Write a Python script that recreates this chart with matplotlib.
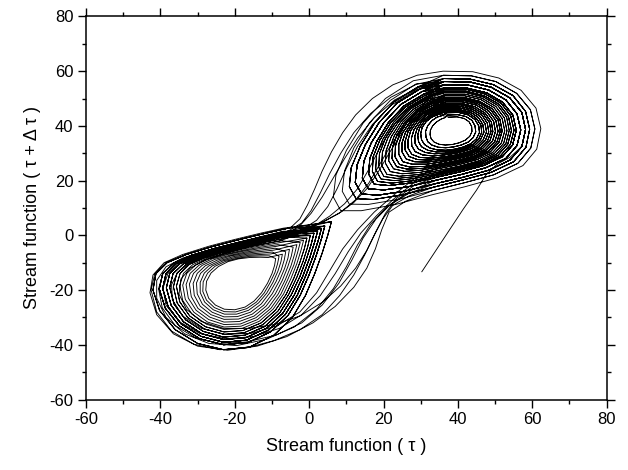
import matplotlib
matplotlib.use("Agg")
import matplotlib.pyplot as plt
from matplotlib.ticker import MultipleLocator

plt.rcParams["font.family"] = ["Liberation Sans", "DejaVu Sans"]
plt.rcParams["axes.unicode_minus"] = False

# right lobe loops, traced clockwise from the top (hole first, widest last)
Rh1 = [(37.5, 43.2), (39.8, 43.3), (41.7, 42.7), (43, 41.5), (43.7, 39.8), (43.8, 38), (43.2, 36.2), (42, 34.8), (40.3, 33.8), (38.5, 33.2),
       (36.6, 33), (34.9, 33.3), (33.6, 34.1), (32.8, 35.3), (32.5, 36.8), (32.6, 38.4), (33.2, 40), (34.2, 41.4), (35.5, 42.5), (36.5, 43)]
Rh2 = [(37.3, 44), (40, 44.1), (42.2, 43.4), (43.8, 42), (44.6, 40), (44.8, 37.8), (44.1, 35.7), (42.8, 34.1), (40.9, 33), (38.8, 32.3),
       (36.7, 32), (34.7, 32.2), (33, 33), (31.9, 34.2), (31.4, 36), (31.3, 38), (31.9, 40.1), (33, 41.9), (34.4, 43.2), (35.8, 43.8)]
RI = [(37, 44.8), (40.2, 44.9), (42.8, 44), (44.6, 42.3), (45.6, 40), (45.8, 37.6), (45, 35.3), (43.5, 33.5), (41.5, 32.3), (39.2, 31.5),
      (36.8, 31.1), (34.5, 31.2), (32.5, 31.9), (31, 33.2), (30.2, 35), (30, 37.2), (30.4, 39.5), (31.5, 41.6), (33, 43.2), (35, 44.3)]
R03 = [(37.0, 45.4), (40.4, 45.4), (43.1, 44.5), (45.0, 42.7), (46.2, 40.3), (46.4, 37.6), (45.6, 35.2), (44.0, 33.2), (41.8, 31.9), (39.3, 31.0),
       (36.7, 30.6), (34.1, 30.5), (31.9, 31.1), (30.2, 32.4), (29.4, 34.3), (29.2, 36.7), (29.7, 39.2), (30.9, 41.6), (32.6, 43.5), (34.8, 44.8)]
R07 = [(36.9, 45.9), (40.5, 45.9), (43.4, 45.0), (45.5, 43.1), (46.7, 40.5), (47.0, 37.7), (46.1, 35.0), (44.5, 32.9), (42.1, 31.5), (39.4, 30.5),
       (36.5, 30.0), (33.7, 29.8), (31.2, 30.3), (29.4, 31.5), (28.5, 33.5), (28.4, 36.1), (29.0, 38.9), (30.3, 41.6), (32.1, 43.7), (34.5, 45.2)]
R11 = [(36.9, 46.5), (40.7, 46.5), (43.7, 45.5), (46.0, 43.5), (47.3, 40.8), (47.7, 37.8), (46.8, 34.9), (45.1, 32.6), (42.5, 31.1), (39.5, 30.0),
       (36.4, 29.4), (33.3, 29.0), (30.5, 29.4), (28.5, 30.6), (27.6, 32.7), (27.5, 35.5), (28.2, 38.6), (29.7, 41.6), (31.6, 44.0), (34.3, 45.7)]
R15 = [(36.9, 47.1), (40.8, 47.1), (44.0, 46.0), (46.5, 43.9), (47.9, 41.0), (48.3, 37.8), (47.4, 34.7), (45.6, 32.3), (42.9, 30.6), (39.6, 29.4),
       (36.2, 28.7), (32.8, 28.2), (29.7, 28.5), (27.6, 29.6), (26.6, 31.9), (26.6, 34.9), (27.3, 38.2), (29.0, 41.5), (31.1, 44.2), (34.0, 46.1)]
R18 = [(36.9, 47.6), (40.9, 47.7), (44.3, 46.5), (46.9, 44.3), (48.5, 41.2), (48.9, 37.9), (48.0, 34.6), (46.1, 32.0), (43.2, 30.2), (39.7, 29.0),
       (36.1, 28.1), (32.4, 27.5), (29.1, 27.7), (26.9, 28.8), (25.8, 31.2), (25.8, 34.4), (26.6, 37.9), (28.4, 41.5), (30.7, 44.5), (33.8, 46.6)]
R22 = [(36.8, 48.1), (41.0, 48.2), (44.6, 47.0), (47.3, 44.7), (49.0, 41.4), (49.4, 37.9), (48.6, 34.5), (46.6, 31.7), (43.5, 29.8), (39.8, 28.5),
       (36.0, 27.5), (32.0, 26.8), (28.4, 26.9), (26.1, 27.9), (25.0, 30.4), (25.0, 33.9), (25.9, 37.6), (27.8, 41.5), (30.3, 44.7), (33.5, 47.0)]
R26 = [(36.8, 48.8), (41.2, 48.8), (45.0, 47.6), (47.8, 45.1), (49.6, 41.7), (50.1, 38.0), (49.3, 34.4), (47.2, 31.4), (43.9, 29.4), (39.9, 28.0),
       (35.9, 26.9), (31.6, 26.0), (27.7, 26.0), (25.2, 26.9), (24.1, 29.6), (24.1, 33.3), (25.1, 37.3), (27.1, 41.5), (29.8, 45.0), (33.2, 47.5)]
R30 = [(36.7, 49.4), (41.3, 49.4), (45.3, 48.1), (48.3, 45.5), (50.2, 42.0), (50.8, 38.0), (49.9, 34.2), (47.7, 31.1), (44.2, 28.9), (40.0, 27.4),
       (35.7, 26.2), (31.1, 25.2), (27.0, 25.0), (24.3, 25.9), (23.1, 28.7), (23.2, 32.6), (24.3, 37.0), (26.4, 41.4), (29.3, 45.2), (32.9, 48.0)]
R33 = [(36.7, 49.9), (41.5, 49.9), (45.6, 48.6), (48.8, 45.9), (50.8, 42.2), (51.4, 38.1), (50.5, 34.1), (48.2, 30.8), (44.5, 28.5), (40.1, 26.9),
       (35.6, 25.7), (30.7, 24.5), (26.4, 24.2), (23.5, 25.1), (22.3, 28.0), (22.4, 32.1), (23.6, 36.7), (25.8, 41.4), (28.9, 45.5), (32.7, 48.4)]
R37 = [(36.6, 50.4), (41.6, 50.4), (45.8, 49.0), (49.2, 46.3), (51.3, 42.4), (51.9, 38.1), (51.0, 33.9), (48.7, 30.5), (44.8, 28.1), (40.2, 26.4),
       (35.4, 25.1), (30.2, 23.8), (25.7, 23.4), (22.7, 24.3), (21.4, 27.2), (21.6, 31.6), (22.9, 36.4), (25.2, 41.4), (28.4, 45.7), (32.4, 48.8)]
R41 = [(36.6, 51.0), (41.8, 51.0), (46.2, 49.6), (49.7, 46.7), (51.9, 42.7), (52.6, 38.2), (51.7, 33.8), (49.3, 30.2), (45.2, 27.7), (40.4, 25.9),
       (35.3, 24.5), (29.8, 23.0), (25.0, 22.5), (21.8, 23.3), (20.5, 26.4), (20.7, 31.0), (22.1, 36.1), (24.6, 41.4), (27.9, 46.0), (32.2, 49.3)]
R45 = [(36.6, 51.6), (41.9, 51.6), (46.5, 50.1), (50.2, 47.1), (52.5, 42.9), (53.2, 38.2), (52.3, 33.6), (49.8, 29.9), (45.6, 27.2), (40.5, 25.3),
       (35.1, 23.8), (29.3, 22.2), (24.2, 21.6), (20.9, 22.3), (19.5, 25.6), (19.7, 30.4), (21.2, 35.7), (23.9, 41.3), (27.4, 46.3), (31.9, 49.8)]
R48 = [(36.6, 52.2), (42.1, 52.2), (46.8, 50.6), (50.7, 47.5), (53.1, 43.2), (53.8, 38.3), (52.9, 33.5), (50.3, 29.6), (45.9, 26.8), (40.6, 24.9),
       (35.0, 23.2), (28.9, 21.5), (23.6, 20.8), (20.1, 21.5), (18.7, 24.9), (18.9, 29.9), (20.5, 35.4), (23.3, 41.3), (27.0, 46.5), (31.7, 50.2)]
R52 = [(36.5, 52.7), (42.2, 52.7), (47.1, 51.0), (51.1, 47.9), (53.6, 43.4), (54.4, 38.3), (53.4, 33.3), (50.8, 29.3), (46.2, 26.4), (40.7, 24.4),
       (34.8, 22.6), (28.5, 20.8), (22.9, 20.0), (19.3, 20.6), (17.9, 24.1), (18.1, 29.3), (19.8, 35.1), (22.7, 41.3), (26.5, 46.7), (31.4, 50.6)]
R56 = [(36.5, 53.3), (42.4, 53.3), (47.4, 51.6), (51.6, 48.3), (54.2, 43.7), (55.1, 38.4), (54.1, 33.2), (51.4, 29.0), (46.6, 26.0), (40.8, 23.9),
       (34.7, 22.0), (28.1, 20.0), (22.2, 19.1), (18.4, 19.7), (17.0, 23.3), (17.2, 28.7), (19.0, 34.8), (22.0, 41.3), (26.0, 47.0), (31.1, 51.1)]
R60 = [(36.4, 53.9), (42.5, 53.8), (47.7, 52.1), (52.0, 48.7), (54.8, 43.9), (55.7, 38.4), (54.7, 33.0), (51.9, 28.7), (46.9, 25.5), (40.9, 23.3),
       (34.5, 21.3), (27.6, 19.2), (21.4, 18.2), (17.5, 18.7), (16.0, 22.4), (16.3, 28.1), (18.2, 34.4), (21.3, 41.2), (25.5, 47.3), (30.8, 51.6)]
R67 = [(36.3, 55.0), (42.8, 54.9), (48.3, 53.1), (52.9, 49.5), (55.9, 44.4), (56.9, 38.5), (55.9, 32.8), (52.9, 28.1), (47.5, 24.7), (41.1, 22.3),
       (34.3, 20.2), (26.8, 17.8), (20.1, 16.6), (15.9, 17.0), (14.3, 20.9), (14.7, 27.0), (16.7, 33.8), (20.1, 41.2), (24.6, 47.8), (30.3, 52.5)]
R75 = [(36.3, 56.2), (43.1, 56.1), (49.0, 54.1), (53.9, 50.3), (57.2, 44.9), (58.2, 38.7), (57.2, 32.5), (54.0, 27.5), (48.3, 23.8), (41.3, 21.2),
       (34.0, 18.9), (25.9, 16.2), (18.6, 14.7), (14.1, 15.1), (12.4, 19.3), (12.9, 25.8), (15.1, 33.1), (18.8, 41.2), (23.6, 48.3), (29.8, 53.5)]
R82 = [(36.2, 57.3), (43.3, 57.1), (49.5, 55.1), (54.8, 51.1), (58.2, 45.3), (59.3, 38.8), (58.3, 32.2), (55.0, 26.9), (48.9, 23.0), (41.5, 20.3),
       (33.7, 17.7), (25.1, 14.8), (17.3, 13.1), (12.6, 13.4), (10.8, 17.8), (11.3, 24.7), (13.7, 32.5), (17.6, 41.1), (22.8, 48.8), (29.3, 54.3)]
R90 = [(36.1, 58.5), (43.6, 58.3), (50.2, 56.2), (55.8, 51.9), (59.5, 45.9), (60.7, 38.9), (59.6, 31.9), (56.1, 26.3), (49.6, 22.1), (41.7, 19.2),
       (33.4, 16.4), (24.2, 13.2), (15.9, 11.3), (10.8, 11.4), (8.9, 16.1), (9.5, 23.5), (12.0, 31.9), (16.2, 41.1), (21.8, 49.3), (28.7, 55.3)]
RO = [(36, 60), (44, 59.8), (51, 57.5), (57, 53), (61, 46.5), (62.3, 39), (61.2, 31.5), (57.5, 25.5), (50.5, 21), (42, 17.8),
      (33, 14.8), (23, 11.2), (14, 9), (8.5, 9), (6.5, 14), (7.2, 22), (10, 31), (14.5, 41), (20.5, 50), (28, 56.5)]

# left lobe loops, traced clockwise from the upper-right corner
LI = [(-9, -8.5), (-9.3, -11), (-10, -14), (-11.2, -17.5), (-12.8, -21), (-14.8, -24), (-17.2, -26.2), (-20, -27.2), (-22.8, -27), (-25.2, -25.5),
      (-27, -23), (-27.8, -20), (-27.6, -16.8), (-26.4, -13.8), (-24.4, -11.4), (-21.8, -9.6), (-19, -8.6), (-16, -8.1), (-13.2, -8), (-11, -8.1)]
L06 = [(-8.1, -7.7), (-8.5, -10.4), (-9.2, -13.6), (-10.5, -17.3), (-12.1, -21.1), (-14.2, -24.4), (-16.8, -26.8), (-19.8, -28.0), (-22.8, -27.9), (-25.5, -26.4),
       (-27.6, -23.7), (-28.6, -20.5), (-28.5, -17.0), (-27.3, -13.8), (-25.3, -11.3), (-22.5, -9.5), (-19.5, -8.4), (-16.2, -7.7), (-13.2, -7.5), (-10.7, -7.5)]
L12 = [(-7.2, -6.9), (-7.6, -9.7), (-8.4, -13.1), (-9.7, -17.1), (-11.4, -21.1), (-13.6, -24.7), (-16.3, -27.4), (-19.5, -28.8), (-22.8, -28.8), (-25.8, -27.2),
       (-28.1, -24.4), (-29.3, -20.9), (-29.3, -17.2), (-28.2, -13.8), (-26.1, -11.2), (-23.1, -9.3), (-19.9, -8.1), (-16.4, -7.3), (-13.1, -7.0), (-10.3, -6.8)]
L18 = [(-6.3, -6.0), (-6.7, -9.0), (-7.5, -12.6), (-8.9, -16.9), (-10.7, -21.2), (-12.9, -25.1), (-15.8, -28.1), (-19.3, -29.7), (-22.9, -29.8), (-26.1, -28.1),
       (-28.7, -25.2), (-30.1, -21.4), (-30.3, -17.4), (-29.2, -13.9), (-27.0, -11.2), (-23.9, -9.2), (-20.4, -7.8), (-16.7, -6.9), (-13.1, -6.5), (-9.9, -6.1)]
L25 = [(-5.3, -5.1), (-5.7, -8.3), (-6.6, -12.1), (-8.0, -16.6), (-9.9, -21.3), (-12.2, -25.5), (-15.3, -28.8), (-19.0, -30.6), (-22.9, -30.7), (-26.4, -29.0),
       (-29.3, -25.9), (-30.9, -21.9), (-31.2, -17.6), (-30.1, -13.9), (-27.9, -11.1), (-24.6, -9.0), (-20.9, -7.5), (-16.9, -6.5), (-13.0, -5.9), (-9.5, -5.4)]
L31 = [(-4.3, -4.3), (-4.8, -7.6), (-5.8, -11.7), (-7.2, -16.4), (-9.1, -21.4), (-11.6, -25.9), (-14.8, -29.5), (-18.8, -31.5), (-22.9, -31.7), (-26.7, -29.9),
       (-29.9, -26.7), (-31.7, -22.4), (-32.2, -17.8), (-31.1, -13.9), (-28.8, -11.0), (-25.4, -8.8), (-21.4, -7.3), (-17.1, -6.1), (-13.0, -5.4), (-9.1, -4.7)]
L38 = [(-3.3, -3.4), (-3.9, -6.8), (-4.9, -11.2), (-6.4, -16.2), (-8.3, -21.4), (-10.9, -26.3), (-14.3, -30.1), (-18.5, -32.4), (-22.9, -32.6), (-27.0, -30.8),
       (-30.4, -27.4), (-32.5, -22.9), (-33.1, -18.0), (-32.0, -13.9), (-29.6, -10.9), (-26.1, -8.6), (-21.9, -7.0), (-17.3, -5.7), (-12.9, -4.8), (-8.7, -4.0)]
L44 = [(-2.4, -2.6), (-3.1, -6.2), (-4.1, -10.8), (-5.7, -16.0), (-7.6, -21.5), (-10.3, -26.7), (-13.9, -30.8), (-18.3, -33.2), (-22.9, -33.5), (-27.3, -31.7),
       (-31.0, -28.1), (-33.3, -23.4), (-34.0, -18.2), (-32.9, -13.9), (-30.5, -10.8), (-26.8, -8.5), (-22.4, -6.8), (-17.6, -5.4), (-12.9, -4.3), (-8.4, -3.4)]
L50 = [(-1.5, -1.8), (-2.2, -5.5), (-3.3, -10.3), (-4.9, -15.8), (-6.9, -21.5), (-9.7, -27.0), (-13.4, -31.4), (-18.0, -34.0), (-22.9, -34.4), (-27.6, -32.5),
       (-31.5, -28.8), (-34.0, -23.8), (-34.8, -18.4), (-33.8, -13.9), (-31.3, -10.7), (-27.4, -8.3), (-22.8, -6.5), (-17.8, -5.0), (-12.9, -3.8), (-8.0, -2.7)]
L56 = [(-0.6, -1.0), (-1.3, -4.9), (-2.5, -9.9), (-4.1, -15.6), (-6.2, -21.6), (-9.1, -27.4), (-12.9, -32.0), (-17.8, -34.8), (-22.9, -35.3), (-27.9, -33.4),
       (-32.1, -29.5), (-34.8, -24.3), (-35.7, -18.6), (-34.7, -13.9), (-32.2, -10.6), (-28.1, -8.2), (-23.3, -6.2), (-18.0, -4.6), (-12.9, -3.3), (-7.7, -2.0)]
L62 = [(0.3, -0.1), (-0.4, -4.2), (-1.6, -9.4), (-3.3, -15.3), (-5.5, -21.6), (-8.4, -27.7), (-12.4, -32.6), (-17.5, -35.6), (-22.9, -36.2), (-28.2, -34.2),
       (-32.6, -30.1), (-35.5, -24.7), (-36.5, -18.8), (-35.6, -13.9), (-33.0, -10.5), (-28.7, -8.0), (-23.7, -5.9), (-18.2, -4.2), (-12.8, -2.7), (-7.3, -1.3)]
L68 = [(1.3, 0.8), (0.5, -3.5), (-0.8, -8.9), (-2.5, -15.1), (-4.8, -21.7), (-7.8, -28.1), (-11.9, -33.3), (-17.3, -36.5), (-23.0, -37.2), (-28.5, -35.1),
       (-33.2, -30.9), (-36.3, -25.2), (-37.5, -19.0), (-36.6, -14.0), (-33.9, -10.5), (-29.5, -7.9), (-24.2, -5.7), (-18.4, -3.8), (-12.8, -2.2), (-6.9, -0.6)]
L75 = [(2.3, 1.6), (1.4, -2.8), (0.1, -8.4), (-1.7, -14.9), (-4.0, -21.8), (-7.1, -28.5), (-11.4, -33.9), (-17.0, -37.4), (-23.0, -38.1), (-28.8, -36.0),
       (-33.8, -31.6), (-37.1, -25.6), (-38.4, -19.2), (-37.5, -14.0), (-34.8, -10.4), (-30.2, -7.7), (-24.6, -5.4), (-18.6, -3.4), (-12.7, -1.6), (-6.5, 0.1)]
L81 = [(3.3, 2.5), (2.4, -2.1), (1.0, -7.9), (-0.9, -14.7), (-3.2, -21.9), (-6.4, -28.9), (-10.9, -34.6), (-16.8, -38.3), (-23.0, -39.1), (-29.1, -36.9),
       (-34.4, -32.4), (-37.9, -26.1), (-39.4, -19.4), (-38.5, -14.0), (-35.7, -10.3), (-31.0, -7.5), (-25.1, -5.1), (-18.9, -3.0), (-12.7, -1.1), (-6.1, 0.8)]
L88 = [(4.2, 3.4), (3.3, -1.3), (1.9, -7.4), (0.0, -14.4), (-2.4, -21.9), (-5.7, -29.3), (-10.4, -35.3), (-16.5, -39.2), (-23.0, -40.0), (-29.4, -37.8),
       (-34.9, -33.1), (-38.7, -26.6), (-40.3, -19.6), (-39.4, -14.0), (-36.5, -10.2), (-31.7, -7.3), (-25.6, -4.8), (-19.1, -2.6), (-12.6, -0.5), (-5.7, 1.5)]
LO = [(6, 5), (5, 0), (3.5, -6.5), (1.5, -14), (-1, -22), (-4.5, -30), (-9.5, -36.5), (-16, -40.8), (-23, -41.8), (-30, -39.5),
      (-36, -34.5), (-40.2, -27.5), (-42, -20), (-41.2, -14), (-38.2, -10), (-33, -7), (-26.5, -4.3), (-19.5, -1.8), (-12.5, 0.5), (-5, 2.8)]

# right -> left crossings
T_a = [(36.2, 57.3), (43.3, 57.1), (49.5, 55.1), (54.8, 51.1), (58.2, 45.3), (59.3, 38.8), (58.3, 32.2), (55.0, 26.9), (48.9, 23.0), (41.5, 20.3),
       (33.7, 17.7), (27, 14.5), (22.5, 11), (19.8, 6), (17.5, 0), (15, -7), (12, -14.5), (8.2, -22), (3.5, -29), (-2.5, -34.5), (-9.5, -38.5),
       (-17, -41.2), (-24, -41.8), (-31, -39.8), (-37, -35), (-41, -28), (-42.5, -20), (-41.5, -14), (-38.5, -10), (-33, -7), (-26.5, -4.3),
       (-19.5, -1.8), (-12.5, 0.5), (-7, 2.3)]
T_b = [(36.3, 55.0), (42.8, 54.9), (48.3, 53.1), (52.9, 49.5), (55.9, 44.4), (56.9, 38.5), (55.9, 32.8), (52.9, 28.1), (47.5, 24.7), (41.1, 22.3),
       (34.3, 20.2), (27.5, 16.5), (22, 11.5), (18, 6), (14.5, -1), (11.5, -9), (8, -17.5), (3.5, -25.5), (-2, -32), (-9, -36.5), (-17, -39),
       (-24, -39.5), (-30.5, -37.5), (-36, -33), (-39.5, -26.5), (-40.5, -19.5), (-39.3, -14), (-36.2, -10.2), (-31.5, -7.3), (-25.5, -4.8),
       (-19, -2.5), (-12.5, -0.3), (-7, 1.5)]
T_c = [(36.5, 52.7), (42.2, 52.7), (47.1, 51.0), (51.1, 47.9), (53.6, 43.4), (54.4, 38.3), (53.4, 33.3), (50.8, 29.3), (46.2, 26.4), (40.7, 24.4),
       (34.8, 22.6), (28, 19), (22.5, 13), (18, 7), (14, 1), (10.5, -6), (7, -14), (3, -22), (-2, -29), (-8, -34), (-15, -37), (-22.5, -37.8),
       (-29.5, -35.8), (-35, -31.5), (-38.5, -25.5), (-39.3, -19.3), (-38, -14), (-35, -10.3), (-30.5, -7.5), (-24.5, -5), (-18.5, -3),
       (-12.5, -1), (-7, 1)]
T_d = [(36.1, 58.5), (43.6, 58.3), (50.2, 56.2), (55.8, 51.9), (59.5, 45.9), (60.7, 38.9), (59.6, 31.9), (56.1, 26.3), (49.6, 22.1), (41.7, 19.2),
       (33.4, 16.4), (26, 12.5), (21.5, 8.5), (19.5, 2), (17.8, -5), (15.5, -12), (12, -19), (7, -26), (1, -32), (-6, -37), (-14, -40.5),
       (-22, -42), (-30, -40.5), (-36.5, -36), (-41, -29), (-42.8, -21), (-42, -14.5), (-39, -10), (-34, -7), (-27, -4), (-20, -1.5),
       (-13, 0.8), (-7, 2.6)]
T_e = [(36.6, 50.4), (41.6, 50.4), (45.8, 49.0), (49.2, 46.3), (51.3, 42.4), (51.9, 38.1), (51.0, 33.9), (48.7, 30.5), (44.8, 28.1), (40.2, 26.4),
       (35.4, 25.1), (29, 21.5), (23, 15), (17.5, 8.5), (13, 2), (9, -5), (5.5, -13), (2, -21), (-2.5, -28), (-8.5, -33), (-15.5, -35.8),
       (-22.5, -36.2), (-29, -34), (-34, -29.5), (-36.8, -23.5), (-37, -18), (-35.3, -13.5), (-32, -10), (-27.5, -7.5), (-22, -5.3),
       (-16.5, -3.2), (-11.5, -1.2), (-7, 0.8)]
T_f = [(36.4, 53.9), (42.5, 53.8), (47.7, 52.1), (52.0, 48.7), (54.8, 43.9), (55.7, 38.4), (54.7, 33.0), (51.9, 28.7), (46.9, 25.5), (40.9, 23.3),
       (34.5, 21.3), (28.5, 18.5), (23.5, 13.5), (20.5, 8), (18, 1.5), (15.5, -5.5), (12.5, -12), (8.5, -18.5), (3.5, -24.5), (-2.5, -29.5),
       (-9, -32.5), (-16, -34), (-23, -34), (-29, -31.5), (-33, -27), (-35, -21.5), (-34.5, -16), (-32, -12), (-28, -9), (-22.5, -6.5),
       (-16.5, -4.3), (-11.5, -2.3), (-7, 0)]
T_g = [(36.3, 56.2), (43.1, 56.1), (49.0, 54.1), (53.9, 50.3), (57.2, 44.9), (58.2, 38.7), (57.2, 32.5), (54.0, 27.5), (48.3, 23.8), (41.3, 21.2),
       (34.0, 18.9), (27, 15.5), (21, 10.5), (16.5, 4), (13, -3.5), (10, -11.5), (6.5, -19.5), (2, -27), (-4, -33.5), (-11.5, -38),
       (-19.5, -40.3), (-27, -39.5), (-33.5, -36), (-38.5, -30), (-41, -23), (-41, -16.5), (-38.5, -11.5), (-34, -8.3), (-28, -5.8),
       (-21.5, -3.5), (-14.5, -1.3), (-7.5, 1.2)]

# left -> right crossings
U_a = [(-5, 2.8), (-2.5, 6), (-0.5, 11), (1.5, 17), (3.5, 23.5), (6, 30.5), (9, 37.5), (12.5, 44), (17, 50), (22.5, 55), (29, 58.5), (36, 60)]
U_b = [(-5.7, 1.5), (-2, 4.5), (0.5, 9), (3, 15.5), (5.5, 22.5), (8.5, 30), (12, 37.5), (16.5, 44.5), (22, 50.5), (29, 55.3), (36.2, 57.3)]
U_c = [(-6.5, 0.1), (-1, 2.5), (4, 5), (8.5, 8.5), (12.5, 13), (16, 19), (19, 26), (22, 33), (25.5, 40), (29.5, 46), (32.5, 50.5), (36.4, 53.9)]
U_d = [(-7.3, -1.3), (-2, 1.5), (3, 4.5), (8, 8), (12, 12), (15.5, 17), (18.5, 23), (21.5, 30), (25, 37.5), (29, 44), (33, 48.5), (36.6, 51.6)]
U_e = [(-6.5, 0.1), (-2.5, 3.5), (0.5, 8), (3.5, 14), (6.5, 21), (9.5, 28), (13, 35.5), (17.5, 43), (23, 49.5), (29.5, 54), (36.3, 56.2)]
U_f = [(-7.7, -2.0), (-3, 0.5), (1.5, 3.5), (5.5, 7), (9.5, 11.5), (13, 17), (16, 24), (19, 32), (22.5, 40), (27, 46.5), (31.5, 50.5), (36.5, 53.3)]
U_g = [(-6.9, -0.6), (-2, 2), (2, 5.5), (5, 10.5), (7.5, 17), (10, 24.5), (13, 32.5), (17, 40.5), (22, 47.5), (28.5, 53), (36.3, 56.2)]

# last part of the record, leaving the attractor
tail = [(36.3, 56.2), (43.1, 56.1), (49.0, 54.1), (53.9, 50.3), (57.2, 44.9), (58.2, 38.7), (57.2, 32.5), (54, 28.5), (50.5, 26),
        (47.5, 22), (45, 16.5), (41.4, 9.5), (36.3, -1), (30.3, -13.3)]

order = [Rh1, Rh2, RI, R03, R07, R11, R15, R18, R22, R26, R30, R33, T_e,
         L88, L81, L75, U_e,
         R75, R67, R60, R56, R52, R48, T_c,
         L68, L56, L44, L31, L18, L06, LI, L12, L25, L38, L50, L56, U_f,
         R56, R60, R67, R75, R82, T_a,
         LO, L81, L88, U_b,
         R82, R75, R67, R60, T_f,
         L62, L68, U_g,
         R75, R67, T_b,
         L75, L81, L88, LO, U_a,
         RO, T_d,
         LO, L88, L81, L75, L68, L62, U_d,
         R45, R41, R37, R33, R30, R26, R22, R18, R15, R11, R07, R03, RI, Rh2, Rh1,
         Rh2, RI, R03, R07, R11, R15, R18, R22, R26, R30, R33, R37, R41, R45,
         R48, R52, R56, R60, R67, R75, T_g,
         L81, L75, U_c,
         R60, R67, R75, R82, R90, tail]

xs, ys = [], []
for seg in order:
    for px, py in seg:
        xs.append(px)
        ys.append(py)

fig = plt.figure(figsize=(6.28, 4.70), dpi=100)
ax = fig.add_axes([0.137, 0.150, 0.829, 0.815])
ax.plot(xs, ys, color="black", lw=0.65)

ax.set_xlim(-60, 80)
ax.set_ylim(-60, 80)
ax.xaxis.set_major_locator(MultipleLocator(20))
ax.xaxis.set_minor_locator(MultipleLocator(10))
ax.yaxis.set_major_locator(MultipleLocator(20))
ax.yaxis.set_minor_locator(MultipleLocator(10))
ax.tick_params(which="both", direction="out", top=True, right=True, width=1.0, labelsize=12)
ax.tick_params(which="major", length=5.5)
ax.tick_params(which="minor", length=3)
for s in ax.spines.values():
    s.set_linewidth(1.1)

ax.set_xlabel("Stream function ( \u03c4 )", fontsize=13, labelpad=8)
ax.set_ylabel("Stream function ( \u03c4 + \u0394 \u03c4 )", fontsize=13, labelpad=6)

fig.savefig("out.png", dpi=100)
